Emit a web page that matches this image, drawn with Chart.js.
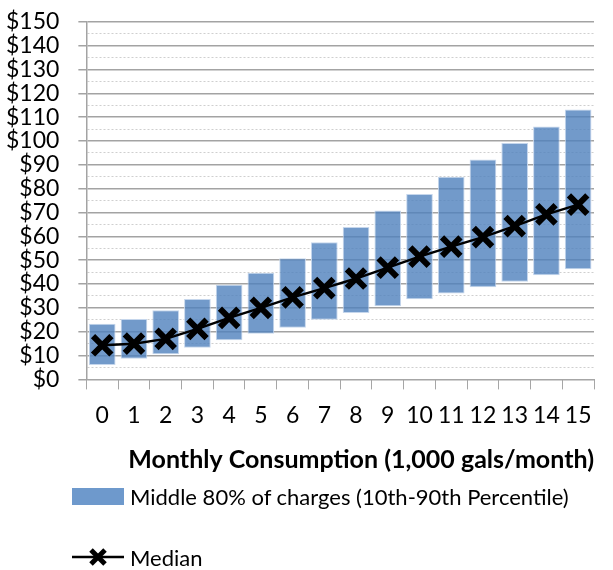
<!DOCTYPE html>
<html>
<head>
<meta charset="utf-8">
<script src="https://cdn.jsdelivr.net/npm/chart.js@4.4.1/dist/chart.umd.min.js"></script>
<style>
  html, body { margin: 0; padding: 0; background: #fff; }
  #wrap { position: relative; width: 613px; height: 570px; overflow: hidden; }
  #chart { position: absolute; left: 0; top: -11px; }
  .legend-item { position: absolute; left: 72px; height: 24px; display: flex; align-items: center;
    font-family: Lato, "Open Sans", sans-serif; font-size: 22px; color: #000; white-space: nowrap; }
  .swatch { width: 52px; height: 17px; background: rgb(110,153,204); margin-right: 6px; }
  .legend-item svg { margin-right: 6px; }
</style>
</head>
<body>
<div id="wrap">
  <canvas id="chart" width="613" height="570"></canvas>
  <div class="legend-item" style="top:484px"><div class="swatch"></div>Middle 80% of charges (10th-90th Percentile)</div>
  <div class="legend-item" style="top:545px">
    <svg width="52" height="24" viewBox="0 0 52 24">
      <line x1="0" y1="12" x2="52" y2="12" stroke="#000" stroke-width="2.5"/>
      <line x1="19" y1="5" x2="33" y2="19" stroke="#000" stroke-width="5"/>
      <line x1="33" y1="5" x2="19" y2="19" stroke="#000" stroke-width="5"/>
    </svg>Median</div>
</div>
<script>
// thousands of gallons per month
const categories = ['0', '1', '2', '3', '4', '5', '6', '7', '8', '9', '10', '11', '12', '13', '14', '15'];
// 10th percentile charge ($)
const p10 = [6.0, 8.7, 10.5, 13.3, 16.4, 19.2, 21.7, 25.0, 27.8, 30.7, 33.6, 36.0, 38.7, 41.0, 43.7, 46.2];
// 90th percentile charge ($)
const p90 = [23.3, 25.3, 29.0, 33.7, 39.7, 44.7, 50.8, 57.5, 63.9, 70.8, 77.8, 85.0, 92.2, 99.2, 106.1, 113.2];
const median = [14.3, 15.0, 17.0, 21.2, 25.8, 30.0, 34.4, 38.3, 42.3, 46.9, 51.5, 55.7, 59.7, 64.3, 69.2, 73.3];

const FONT = 'Lato, "Open Sans", sans-serif';
const isMajor = ctx => ctx.tick && ctx.tick.value % 10 === 0;

new Chart(document.getElementById('chart'), {
  type: 'bar',
  data: {
    labels: categories,
    datasets: [
      {
        type: 'line',
        label: 'Median',
        data: median,
        borderColor: '#000',
        borderWidth: 2.5,
        pointStyle: 'crossRot',
        pointRadius: 13,
        pointBorderWidth: 6,
        pointBorderColor: '#000',
        pointBackgroundColor: '#000',
        order: 0,
      },
      {
        label: 'Middle 80% of charges (10th-90th Percentile)',
        data: p10.map((lo, i) => [lo, p90[i]]),
        backgroundColor: 'rgba(79,129,189,0.8)',
        borderColor: '#c5d6ec',
        borderWidth: 1,
        borderSkipped: false,
        categoryPercentage: 1,
        barPercentage: 0.84,
        order: 1,
      }
    ]
  },
  options: {
    responsive: false,
    animation: false,
    layout: { padding: { top: 0, left: -13, right: 17, bottom: 84 } },
    plugins: { legend: { display: false }, tooltip: { enabled: false } },
    scales: {
      x: {
        grid: { drawOnChartArea: false, offset: true, tickLength: 10, color: '#a6a6a6', lineWidth: 1 },
        border: { display: true, color: '#a6a6a6', width: 1 },
        ticks: { color: '#000', font: { family: FONT, size: 23 }, padding: 12, maxRotation: 0, autoSkip: false },
        title: {
          display: true,
          text: 'Monthly Consumption (1,000 gals/month)',
          align: 'end',
          color: '#000',
          font: { family: FONT, size: 25, weight: 'bold' },
          padding: { top: 4, bottom: 0 },
        },
      },
      y: {
        min: 0,
        max: 150,
        ticks: {
          stepSize: 5,
          autoSkip: false,
          color: '#000',
          font: { family: FONT, size: 23 },
          padding: 19,
          callback: v => (v % 10 === 0 ? '$' + v : ''),
        },
        grid: {
          tickLength: 8,
          color: ctx => (isMajor(ctx) ? '#a3a3a3' : '#cfcfcf'),
          tickColor: ctx => (isMajor(ctx) ? '#a3a3a3' : 'rgba(0,0,0,0)'),
          lineWidth: ctx => (isMajor(ctx) ? 1.5 : 1),
        },
        border: {
          display: true,
          color: '#a3a3a3',
          width: 1.5,
          dash: ctx => (isMajor(ctx) ? [] : [2, 2]),
        },
      },
    },
  },
});
</script>
</body>
</html>
